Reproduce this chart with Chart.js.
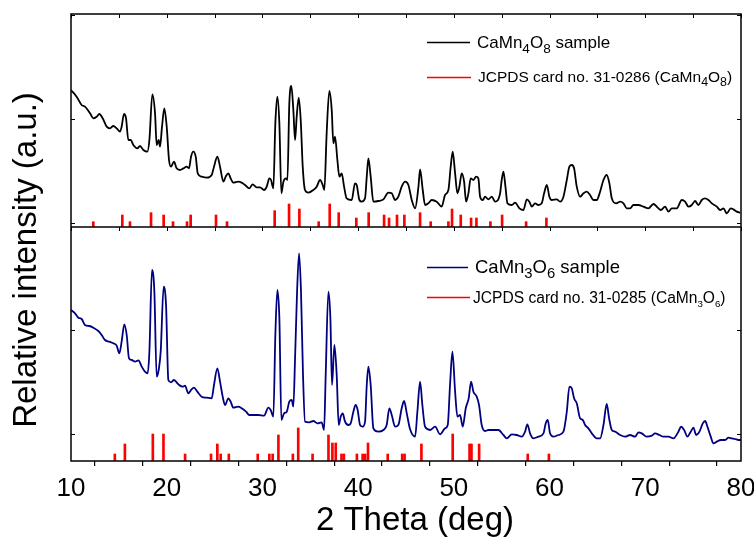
<!DOCTYPE html>
<html><head><meta charset="utf-8">
<script src="https://cdn.jsdelivr.net/npm/chart.js@4.4.0/dist/chart.umd.min.js"></script>
<style>html,body{margin:0;padding:0;background:#fff;}canvas{display:block;}</style>
</head><body>
<canvas id="c" width="754" height="542"></canvas>
<script>
// ---------- data (2θ in degrees, intensity in arbitrary units) ----------
const xTickValues = [10,15,20,25,30,35,40,45,50,55,60,65,70,75,80];
const xLabelValues = [10,20,30,40,50,60,70,80];
const topRange = [-12, 627];
const botRange = [-81, 621];
const topYTicks = [0, 312, 624];
const botYTicks = [0, 312];

const topCurve = [[10.0,399],[10.59,379],[11.11,354],[11.46,349],[11.99,329],[12.33,314],[12.68,319],[12.96,327],[13.31,314],[13.73,289],[14.07,284],[14.42,291],[14.77,284],[15.12,274],[15.29,289],[15.54,327],[15.75,314],[15.99,249],[16.24,249],[16.51,234],[16.93,224],[17.21,231],[17.56,219],[17.98,214],[18.19,249],[18.50,386],[18.78,329],[18.95,234],[19.16,249],[19.30,229],[19.51,289],[19.75,344],[20.00,289],[20.24,189],[20.45,169],[20.76,184],[21.04,164],[21.39,159],[21.74,164],[22.09,169],[22.33,164],[22.54,199],[22.78,214],[23.03,199],[23.24,149],[23.65,139],[24.18,136],[24.70,144],[24.94,169],[25.29,199],[25.57,169],[25.92,124],[26.16,139],[26.44,149],[26.68,134],[26.96,121],[27.48,124],[27.83,121],[28.18,114],[28.63,104],[28.98,116],[29.40,107],[29.75,107],[30.17,99],[30.45,109],[30.72,134],[30.90,129],[31.14,104],[31.35,299],[31.56,379],[31.77,299],[31.98,89],[32.19,124],[32.47,134],[32.61,129],[32.81,359],[33.02,411],[33.23,339],[33.41,249],[33.58,319],[33.79,376],[34.00,309],[34.21,169],[34.45,99],[34.80,91],[35.32,99],[35.67,109],[36.02,129],[36.30,114],[36.47,99],[36.71,269],[36.99,396],[37.24,339],[37.41,239],[37.59,259],[37.83,189],[38.04,139],[38.28,149],[38.53,109],[38.80,74],[39.33,69],[39.67,119],[39.85,114],[40.13,69],[40.37,64],[40.72,74],[40.90,139],[41.07,194],[41.31,139],[41.59,64],[42.11,66],[42.64,71],[43.16,91],[43.51,89],[43.86,69],[44.20,79],[44.55,109],[44.90,124],[45.25,114],[45.60,69],[45.95,44],[46.30,109],[46.47,161],[46.75,99],[46.99,54],[47.34,59],[47.69,69],[48.21,64],[48.73,49],[49.08,84],[49.43,99],[49.67,169],[49.88,214],[50.13,149],[50.37,89],[50.58,109],[50.82,149],[51.07,124],[51.28,64],[51.52,89],[51.76,134],[52.04,129],[52.32,139],[52.56,134],[52.74,79],[53.02,69],[53.26,79],[53.61,71],[53.96,79],[54.31,64],[54.83,89],[55.00,129],[55.18,154],[55.39,109],[55.60,59],[56.05,54],[56.40,61],[56.85,44],[57.27,39],[57.62,71],[57.89,64],[58.14,49],[58.49,59],[58.83,54],[59.18,59],[59.43,89],[59.71,114],[59.98,79],[60.23,69],[60.75,71],[61.10,64],[61.45,79],[61.80,129],[62.07,169],[62.32,174],[62.56,164],[62.84,109],[63.19,79],[63.54,89],[63.88,94],[64.23,84],[64.58,69],[64.93,69],[65.28,94],[65.63,129],[65.97,144],[66.25,119],[66.50,74],[66.95,59],[67.37,64],[67.72,59],[68.06,44],[68.41,44],[68.76,54],[69.28,54],[69.81,49],[70.33,44],[70.85,57],[71.27,47],[71.62,39],[72.07,49],[72.42,34],[72.77,44],[73.29,44],[73.81,69],[74.16,64],[74.51,49],[74.86,54],[75.20,66],[75.55,54],[75.90,69],[76.25,74],[76.60,69],[76.95,59],[77.47,49],[77.82,39],[78.17,44],[78.51,29],[78.93,44],[79.21,41],[79.56,34],[79.91,31]];

const topSticks = [[12.33,4],[15.36,24],[16.16,4],[18.36,31],[19.68,24],[20.66,4],[22.12,4],[22.50,24],[25.15,24],[26.30,4],[31.28,37],[32.78,57],[33.86,42],[35.88,4],[37.03,57],[37.97,31],[39.81,15],[41.10,31],[42.71,24],[43.23,15],[44.06,24],[44.83,24],[46.47,31],[47.58,4],[49.43,4],[49.81,42],[50.72,24],[51.80,15],[52.36,15],[53.82,4],[55.04,24],[57.55,4],[59.67,15]];

const botCurve = [[10.0,372],[10.42,362],[10.77,349],[11.11,345],[11.46,327],[11.92,324],[12.33,319],[12.86,309],[13.20,297],[13.55,282],[14.00,277],[14.42,272],[14.77,265],[15.05,242],[15.29,277],[15.57,329],[15.82,297],[16.06,227],[16.34,222],[16.69,217],[17.04,221],[17.39,202],[17.73,187],[18.01,182],[18.19,247],[18.46,492],[18.71,427],[18.95,172],[19.16,192],[19.37,247],[19.68,442],[19.93,387],[20.17,162],[20.45,155],[20.76,162],[21.22,149],[21.67,142],[21.91,145],[22.26,122],[22.54,132],[22.85,139],[23.20,127],[23.65,112],[24.18,109],[24.70,107],[24.94,147],[25.29,197],[25.57,157],[25.85,112],[26.09,87],[26.44,107],[26.68,97],[26.96,79],[27.48,82],[27.83,77],[28.29,67],[28.63,57],[29.05,57],[29.57,57],[30.17,55],[30.62,79],[30.86,72],[31.14,52],[31.35,297],[31.56,432],[31.77,347],[31.98,42],[32.26,62],[32.54,67],[32.81,97],[33.06,102],[33.23,82],[33.41,227],[33.62,427],[33.83,542],[34.03,427],[34.24,177],[34.45,37],[34.90,35],[35.32,39],[35.74,32],[36.19,35],[36.44,12],[36.61,177],[36.89,427],[37.10,347],[37.27,147],[37.52,267],[37.76,177],[37.97,27],[38.18,52],[38.39,62],[38.63,37],[38.98,27],[39.22,32],[39.50,67],[39.74,87],[39.95,72],[40.20,27],[40.48,22],[40.72,37],[40.90,147],[41.07,202],[41.31,147],[41.59,17],[42.11,7],[42.64,12],[42.98,27],[43.26,77],[43.51,57],[43.86,22],[44.20,27],[44.55,77],[44.80,99],[45.08,62],[45.42,15],[45.95,-8],[46.19,67],[46.47,157],[46.71,87],[46.99,22],[47.51,12],[48.04,22],[48.56,-1],[49.08,17],[49.36,27],[49.60,147],[49.85,247],[50.13,127],[50.37,52],[50.65,57],[50.93,22],[51.24,77],[51.55,107],[51.80,157],[52.04,127],[52.39,112],[52.63,87],[52.91,27],[53.26,9],[53.61,12],[54.13,12],[54.65,12],[55.18,-3],[55.53,-13],[56.05,-1],[56.57,-3],[57.09,-8],[57.44,7],[57.68,29],[57.96,2],[58.31,-13],[58.83,-8],[59.36,2],[59.60,32],[59.81,42],[60.05,2],[60.40,-8],[60.92,-3],[61.45,7],[61.80,67],[62.07,142],[62.32,137],[62.56,107],[62.84,92],[63.19,47],[63.47,42],[63.71,27],[64.06,17],[64.41,2],[64.93,-13],[65.28,-13],[65.63,27],[65.97,90],[66.22,47],[66.50,12],[66.85,7],[67.37,-3],[67.89,-8],[68.41,-3],[68.94,-8],[69.28,5],[69.63,2],[70.15,-8],[70.68,-5],[71.02,2],[71.48,-3],[71.90,-8],[72.42,-8],[72.94,-13],[73.46,7],[73.74,22],[74.06,12],[74.40,-8],[74.75,7],[75.03,19],[75.31,-3],[75.66,7],[76.01,32],[76.25,39],[76.49,22],[76.84,-8],[77.12,-28],[77.47,-23],[77.89,-18],[78.34,-18],[78.69,-11],[79.03,-13],[79.38,-15],[79.73,-18],[79.98,-18]];

const botSticks = [[14.58,-60],[15.63,-30],[18.55,0],[19.66,0],[21.92,-60],[24.63,-60],[25.29,-30],[25.64,-60],[26.49,-60],[29.51,-60],[30.72,-60],[31.07,-60],[31.67,-3],[33.18,-60],[33.74,18],[35.24,-60],[36.90,-3],[37.31,-27],[37.66,-27],[38.26,-60],[38.51,-60],[39.87,-60],[40.47,-60],[40.73,-60],[41.03,-27],[43.09,-60],[44.60,-60],[44.85,-60],[46.61,-30],[49.88,0],[51.64,-30],[51.84,-30],[52.64,-30],[57.72,-60],[59.93,-60]];

// legend texts: [text, isSubscript]
const topLegend1 = [['CaMn',0],['4',1],['O',0],['8',1],[' sample',0]];
const topLegend2 = [['JCPDS card no. 31-0286 (CaMn',0],['4',1],['O',0],['8',1],[')',0]];
const botLegend1 = [['CaMn',0],['3',1],['O',0],['6',1],[' sample',0]];
const botLegend2 = [['JCPDS card no. 31-0285 (CaMn',0],['3',1],['O',0],['6',1],[')',0]];
const xTitle = '2 Theta (deg)';
const yTitle = 'Relative intensity (a.u.)';

const FONT = '"Liberation Sans", Arial, sans-serif';

function rich(c, parts, x, y, size, subScale) {
  let cx = x;
  for (const [t, sub] of parts) {
    const s = sub ? size * subScale : size;
    c.font = s + 'px ' + FONT;
    c.fillText(t, cx, sub ? y + size * 0.27 : y);
    cx += c.measureText(t).width;
  }
}

const framePlugin = {
  id: 'frame',
  afterDraw(chart) {
    const c = chart.ctx, a = chart.chartArea;
    const xs = chart.scales.x, yT = chart.scales.yTop, yB = chart.scales.yBot;
    const mid = yT.bottom;
    c.save();
    c.strokeStyle = '#000';
    c.lineWidth = 1.5;
    c.beginPath();
    c.rect(a.left, a.top, a.right - a.left, a.bottom - a.top);
    c.moveTo(a.left, mid); c.lineTo(a.right, mid);
    c.stroke();
    c.lineWidth = 1;
    c.beginPath();
    for (const v of xTickValues) {
      const px = Math.round(xs.getPixelForValue(v)) + 0.5;
      c.moveTo(px, a.top); c.lineTo(px, a.top + 4);
      c.moveTo(px, mid); c.lineTo(px, mid + 4);
    }
    for (const v of topYTicks) {
      const py = Math.round(yT.getPixelForValue(v)) + 0.5;
      c.moveTo(a.left, py); c.lineTo(a.left + 4, py);
      c.moveTo(a.right, py); c.lineTo(a.right - 4, py);
    }
    for (const v of botYTicks) {
      const py = Math.round(yB.getPixelForValue(v)) + 0.5;
      c.moveTo(a.left, py); c.lineTo(a.left + 4, py);
      c.moveTo(a.right, py); c.lineTo(a.right - 4, py);
    }
    c.stroke();

    // titles
    c.fillStyle = '#000';
    c.textAlign = 'center';
    c.textBaseline = 'alphabetic';
    c.font = '33px ' + FONT;
    c.fillText(xTitle, 415, 530);
    c.save();
    c.translate(36, 260);
    c.rotate(-Math.PI / 2);
    c.fillText(yTitle, 0, 0);
    c.restore();

    // legends
    c.textAlign = 'left';
    c.lineWidth = 1.5;
    c.strokeStyle = '#000';
    c.beginPath(); c.moveTo(427, 42.5); c.lineTo(470, 42.5); c.stroke();
    c.strokeStyle = '#ff0000';
    c.beginPath(); c.moveTo(427, 77.5); c.lineTo(471, 77.5); c.stroke();
    c.strokeStyle = '#000080';
    c.beginPath(); c.moveTo(427, 267.5); c.lineTo(468, 267.5); c.stroke();
    c.strokeStyle = '#ff0000';
    c.beginPath(); c.moveTo(427, 297.5); c.lineTo(470, 297.5); c.stroke();
    c.fillStyle = '#000';
    rich(c, topLegend1, 477, 48, 17, 0.8);
    rich(c, topLegend2, 478, 82, 15.5, 0.8);
    rich(c, botLegend1, 475, 273, 18.5, 0.8);
    rich(c, botLegend2, 473, 303, 15.6, 0.62);
    c.restore();
  }
};

new Chart(document.getElementById('c'), {
  type: 'line',
  data: {
    datasets: [
      { type: 'line', label: 'CaMn4O8 sample', yAxisID: 'yTop',
        data: topCurve.map(p => ({x: p[0], y: p[1]})),
        borderColor: '#000000', borderWidth: 1.8, pointRadius: 0,
        cubicInterpolationMode: 'monotone', fill: false, order: 0 },
      { type: 'bar', label: 'JCPDS card no. 31-0286', yAxisID: 'yTop',
        data: topSticks.map(p => ({x: p[0], y: [topRange[0], p[1]]})),
        backgroundColor: '#ff0000', borderWidth: 0, barThickness: 2, grouped: false, order: 1 },
      { type: 'line', label: 'CaMn3O6 sample', yAxisID: 'yBot',
        data: botCurve.map(p => ({x: p[0], y: p[1]})),
        borderColor: '#000080', borderWidth: 1.8, pointRadius: 0,
        cubicInterpolationMode: 'monotone', fill: false, order: 0 },
      { type: 'bar', label: 'JCPDS card no. 31-0285', yAxisID: 'yBot',
        data: botSticks.map(p => ({x: p[0], y: [botRange[0], p[1]]})),
        backgroundColor: '#ff0000', borderWidth: 0, barThickness: 2, grouped: false, order: 1 }
    ]
  },
  options: {
    responsive: false, animation: false, devicePixelRatio: 1,
    layout: { padding: { left: 71, right: 13, top: 14, bottom: 0 } },
    plugins: { legend: { display: false }, tooltip: { enabled: false }, title: { display: false } },
    scales: {
      x: {
        type: 'linear', position: 'bottom', min: 10, max: 80, offset: false,
        afterBuildTicks: s => { s.ticks = xTickValues.map(v => ({value: v})); },
        ticks: {
          autoSkip: false, maxRotation: 0, minRotation: 0, padding: 7, color: '#000',
          callback: v => xLabelValues.includes(v) ? String(v) : '',
          font: { family: "'Liberation Sans Narrow', 'Liberation Sans', Arial", size: 26 }
        },
        grid: { display: true, drawOnChartArea: false, drawTicks: true, tickLength: 5, color: '#000', lineWidth: 1.2 },
        border: { display: false },
        afterFit: s => { s.height = 81; s.paddingLeft = 0; s.paddingRight = 0; }
      },
      yBot: {
        type: 'linear', position: 'left', stack: 'panels', stackWeight: 234,
        min: botRange[0], max: botRange[1],
        ticks: { display: false }, grid: { display: false }, border: { display: false },
        afterFit: s => { s.width = 0; }
      },
      yTop: {
        type: 'linear', position: 'left', stack: 'panels', stackWeight: 213,
        min: topRange[0], max: topRange[1],
        ticks: { display: false }, grid: { display: false }, border: { display: false },
        afterFit: s => { s.width = 0; }
      }
    }
  },
  plugins: [framePlugin]
});
</script>
</body></html>
